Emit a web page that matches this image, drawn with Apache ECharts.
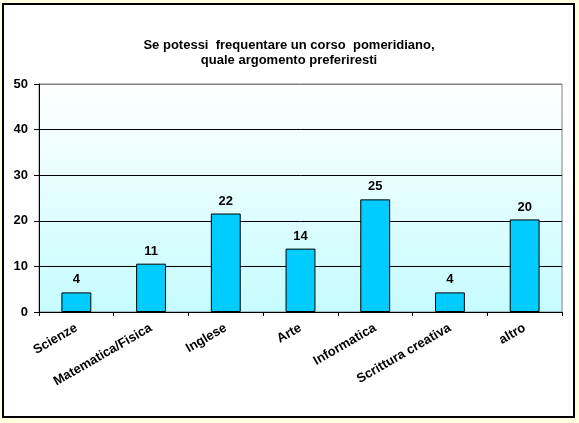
<!doctype html>
<html lang='it'>
<head>
<title>Corso pomeridiano</title>
<meta charset='utf-8'>
<style>
body { margin: 0; background: #FFFFE1; }
.frame { position: absolute; left: 2px; top: 3px; width: 569px; height: 411px; border: 2px solid #000; background: #fff; }
.chart { position: absolute; left: 0; top: 0; width: 579px; height: 423px; }
</style>
</head>
<body>
<div class="frame"></div>
<div class="chart"></div>
<script src="https://cdn.jsdelivr.net/npm/echarts@6/dist/echarts.min.js"></script>
<script>
// dati (le etichette mostrano il valore arrotondato)
const categories = ['Scienze', 'Matematica/Fisica', 'Inglese', 'Arte', 'Informatica', 'Scrittura creativa', 'altro'];
const values = [4.3, 10.6, 21.6, 13.9, 24.7, 4.3, 20.3];
const yTicks = [0, 10, 20, 30, 40, 50];

const fontBold = {
    fontFamily: 'Liberation Sans, Arial',
    fontWeight: 'bold',
    color: '#000'
};

const chart = echarts.init(document.querySelector('.chart'));
chart.setOption({
    animation: false,
    title: {
        text: 'Se potessi  frequentare un corso  pomeridiano,\nquale argomento preferiresti',
        left: 284,
        top: 33,
        textAlign: 'center',
        textStyle: Object.assign({ fontSize: 13, lineHeight: 15 }, fontBold)
    },
    grid: {
        left: 39,
        right: 17,
        top: 84,
        bottom: 111,
        show: true,
        borderColor: '#808080',
        borderWidth: 1,
        backgroundColor: new echarts.graphic.LinearGradient(0, 0, 0, 1, [
            { offset: 0, color: '#FFFFFF' },
            { offset: 1, color: '#C6FCFF' }
        ])
    },
    xAxis: {
        type: 'category',
        data: categories,
        axisLine: { lineStyle: { color: '#000', width: 1 } },
        axisTick: { show: true, length: 4, lineStyle: { color: '#000' } },
        axisLabel: Object.assign({ rotate: 30, fontSize: 13, margin: 15, interval: 0 }, fontBold)
    },
    yAxis: {
        type: 'value',
        min: yTicks[0],
        max: yTicks[yTicks.length - 1],
        interval: 10,
        axisLine: { show: true, lineStyle: { color: '#000', width: 1 } },
        axisTick: { show: true, length: 5, lineStyle: { color: '#000' } },
        axisLabel: Object.assign({ fontSize: 13, margin: 11 }, fontBold),
        splitLine: { lineStyle: { color: ['#000', '#000', '#000', '#000', '#000', '#808080'], width: 1 } }
    },
    series: [{
        type: 'bar',
        data: values,
        barWidth: '40%',
        itemStyle: { color: '#00CCFF', borderColor: '#000', borderWidth: 1 },
        label: Object.assign({
            show: true,
            position: 'top',
            distance: 6,
            fontSize: 13,
            formatter: p => Math.round(p.value)
        }, fontBold)
    }]
});
</script>
</body>
</html>
